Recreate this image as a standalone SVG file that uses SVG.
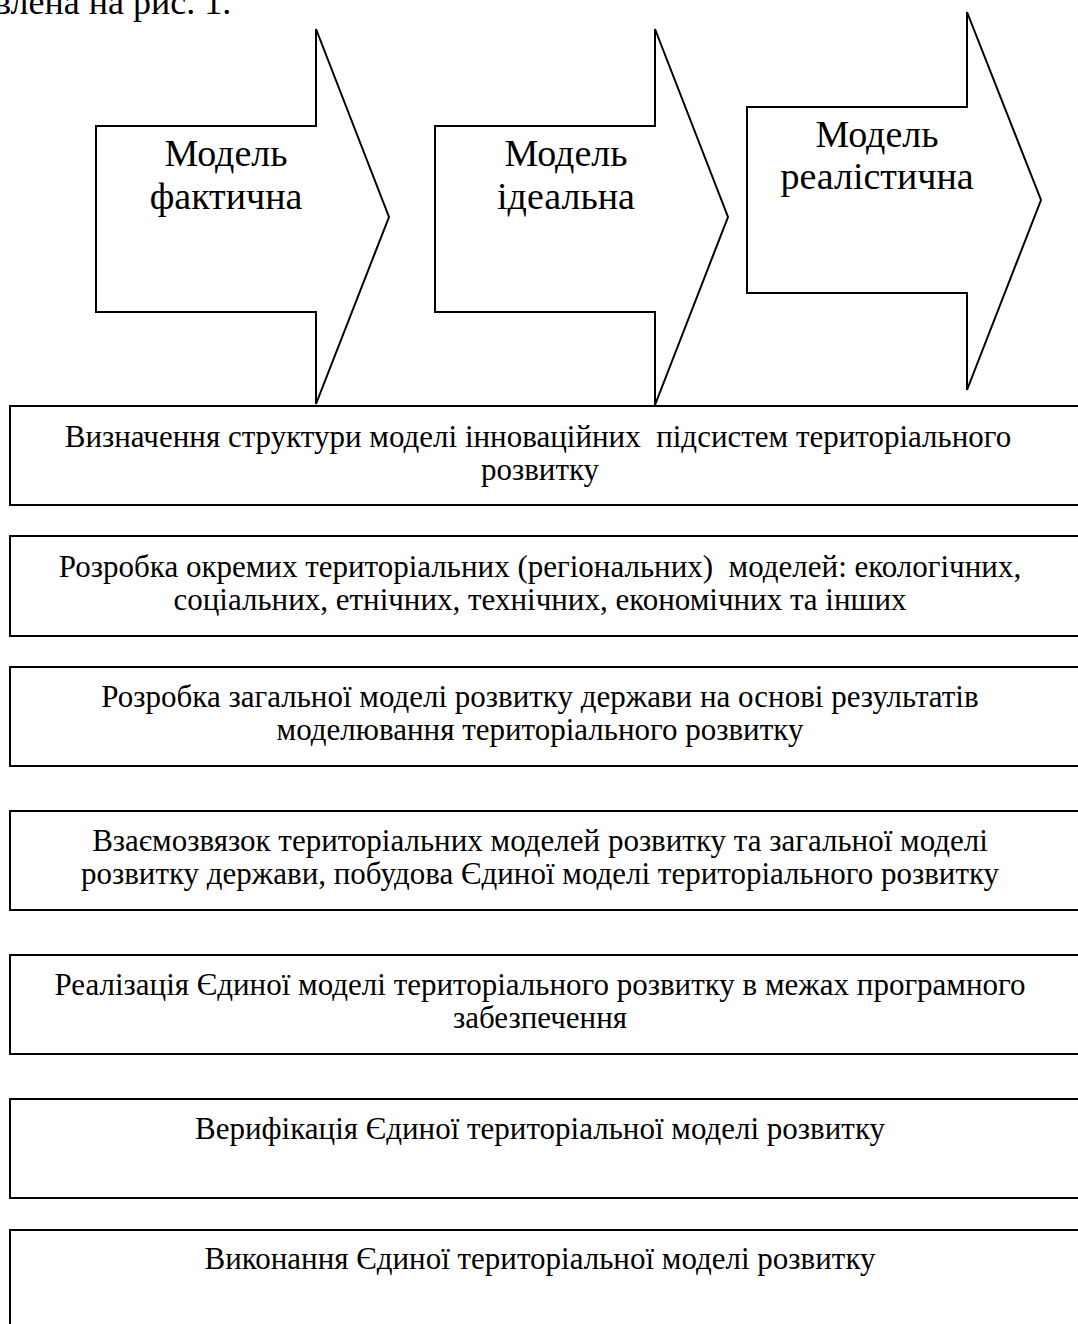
<svg xmlns="http://www.w3.org/2000/svg" width="1078" height="1324" viewBox="0 0 1078 1324">
<style>
.shape{fill:#fff;stroke:#000;stroke-width:2;stroke-linejoin:miter}
.big{font-family:"Liberation Serif","Times New Roman",serif;font-size:38px;fill:#000;text-anchor:middle}
.lbl{font-family:"Liberation Serif","Times New Roman",serif;font-size:31px;fill:#000;text-anchor:middle;white-space:pre}
</style>
<rect width="1078" height="1324" fill="#fff"/>
<text x="-6" y="14" class="big" style="text-anchor:start;font-size:36px">влена на рис. 1.</text>
<g id="arrow-fact">
<polygon class="shape" points="96,126 316,126 316,29 389,217 316,404 316,312 96,312"/>
<text class="big" x="226" y="166">Модель</text>
<text class="big" x="226" y="209">фактична</text>
</g>
<g id="arrow-ideal">
<polygon class="shape" points="435,126 655,126 655,29 728,217 655,405 655,312 435,312"/>
<text class="big" x="566" y="166">Модель</text>
<text class="big" x="566" y="209">ідеальна</text>
</g>
<g id="arrow-real">
<polygon class="shape" points="747,107 967,107 967,12 1041,200 967,390 967,293 747,293"/>
<text class="big" x="877" y="147">Модель</text>
<text class="big" x="877" y="189">реалістична</text>
</g>
<g id="step1">
<rect class="shape" x="10" y="406" width="1090" height="99"/>
<text class="lbl" x="538" y="447">Визначення структури моделі інноваційних  підсистем територіального</text>
<text class="lbl" x="540" y="480">розвитку</text>
</g>
<g id="step2">
<rect class="shape" x="10" y="536" width="1090" height="100"/>
<text class="lbl" x="540" y="577">Розробка окремих територіальних (регіональних)  моделей: екологічних,</text>
<text class="lbl" x="540" y="610">соціальних, етнічних, технічних, економічних та інших</text>
</g>
<g id="step3">
<rect class="shape" x="10" y="667" width="1090" height="99"/>
<text class="lbl" x="540" y="707">Розробка загальної моделі розвитку держави на основі результатів</text>
<text class="lbl" x="540" y="740">моделювання територіального розвитку</text>
</g>
<g id="step4">
<rect class="shape" x="10" y="811" width="1090" height="99"/>
<text class="lbl" x="540" y="851">Взаємозвязок територіальних моделей розвитку та загальної моделі</text>
<text class="lbl" x="540" y="884">розвитку держави, побудова Єдиної моделі територіального розвитку</text>
</g>
<g id="step5">
<rect class="shape" x="10" y="955" width="1090" height="99"/>
<text class="lbl" x="540" y="995">Реалізація Єдиної моделі територіального розвитку в межах програмного</text>
<text class="lbl" x="540" y="1028">забезпечення</text>
</g>
<g id="step6">
<rect class="shape" x="10" y="1099" width="1090" height="99"/>
<text class="lbl" x="540" y="1139">Верифікація Єдиної територіальної моделі розвитку</text>
</g>
<g id="step7">
<rect class="shape" x="10" y="1230" width="1090" height="120"/>
<text class="lbl" x="540" y="1269">Виконання Єдиної територіальної моделі розвитку</text>
</g>
<g id="connectors"/>
</svg>
